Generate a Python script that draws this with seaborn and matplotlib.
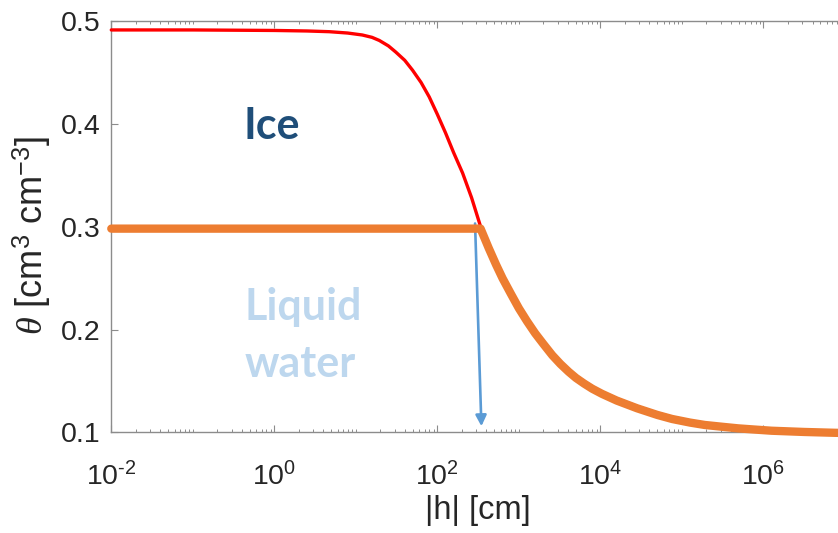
import numpy as np
import pandas as pd
import matplotlib
matplotlib.use('Agg')
import matplotlib.pyplot as plt
import matplotlib.ticker as mticker
import seaborn as sns

# |h| in cm and water content
h_ice = [0.01, 0.1, 1, 2.51, 4.73, 7.94, 12.0, 15.8, 19.4, 25.1, 30.9, 39.8,
         49.5, 63.1, 79.4, 100, 126, 158, 204, 263, 324, 339,
         427, 525, 631, 794, 1000, 1259, 1585, 1995, 2570, 3236, 4074, 5012,
         6310, 7943, 10470, 15850, 28180, 50120, 75860, 125900, 190500,
         316200, 489800, 794300, 1259000, 3162000, 7413000, 10000000]
theta_ice = [0.491, 0.491, 0.4905, 0.4900, 0.4893, 0.4880, 0.4861, 0.4838,
             0.4808, 0.4755, 0.4695, 0.4615, 0.452, 0.440, 0.426, 0.409,
             0.391, 0.372, 0.352, 0.328, 0.305, 0.300,
             0.281, 0.265, 0.2517, 0.237, 0.2226, 0.210, 0.1983, 0.188,
             0.177, 0.1685, 0.161, 0.155, 0.1495, 0.1445, 0.1393, 0.1328,
             0.1253, 0.1188, 0.1148, 0.1112, 0.1089, 0.107, 0.1055, 0.1043,
             0.1033, 0.1021, 0.1013, 0.1011]

h_liq = [0.01, 339, 427, 525, 631, 794, 1000, 1259, 1585, 1995, 2570, 3236,
         4074, 5012, 6310, 7943, 10470, 15850, 28180, 50120, 75860, 125900,
         190500, 316200, 489800, 794300, 1259000, 3162000, 7413000, 10000000]
theta_liq = [0.298, 0.298, 0.279, 0.263, 0.2497, 0.235, 0.2206, 0.208,
             0.1963, 0.186, 0.175, 0.1665, 0.159, 0.153, 0.1475, 0.1425,
             0.1375, 0.131, 0.1235, 0.117, 0.1131, 0.1096, 0.1073, 0.1055,
             0.104, 0.1028, 0.1017, 0.1005, 0.0997, 0.0995]

arrow_from = (290, 0.303)
arrow_to = (347, 0.106)

xticks_major = [1e-2, 1e0, 1e2, 1e4, 1e6]
xtick_labels = [r'$\mathdefault{10^{‐2}}$', r'$\mathdefault{10^{0}}$',
                r'$\mathdefault{10^{2}}$', r'$\mathdefault{10^{4}}$',
                r'$\mathdefault{10^{6}}$']
yticks = [0.1, 0.2, 0.3, 0.4, 0.5]

sns.set_theme(style='white')
plt.rcParams['font.family'] = ['Liberation Sans', 'DejaVu Sans']
plt.rcParams['mathtext.fontset'] = 'custom'
plt.rcParams['mathtext.rm'] = 'Liberation Sans'
plt.rcParams['mathtext.it'] = 'Liberation Serif:italic'
plt.rcParams['mathtext.bf'] = 'Liberation Sans:bold'

fig = plt.figure(figsize=(8.38, 5.33), dpi=100)
ax = fig.add_axes([0.1328, 0.1886, 0.8755, 0.7726])

ice_df = pd.DataFrame({'h': h_ice, 'theta': theta_ice})
liq_df = pd.DataFrame({'h': h_liq, 'theta': theta_liq})

sns.lineplot(data=ice_df, x='h', y='theta', ax=ax, color='#ff0000', lw=2.4,
             estimator=None, sort=False, zorder=3, clip_on=False,
             solid_joinstyle='round')
ax.annotate('', xy=arrow_to, xytext=arrow_from,
            arrowprops=dict(arrowstyle='-|>', color='#5b9bd5', lw=1.9,
                            mutation_scale=16, shrinkA=0, shrinkB=0),
            zorder=2)
sns.lineplot(data=liq_df, x='h', y='theta', ax=ax, color='#ed7d31', lw=6,
             estimator=None, sort=False, zorder=4, clip_on=False,
             solid_joinstyle='round')

ax.set_xscale('log')
ax.set_xlim(1e-2, 1e7)
ax.set_ylim(0.1, 0.5)
ax.xaxis.set_major_locator(mticker.FixedLocator(xticks_major))
ax.xaxis.set_major_formatter(mticker.FixedFormatter(xtick_labels))
ax.xaxis.set_minor_locator(mticker.LogLocator(base=10, subs=np.arange(1, 10), numticks=100))
ax.xaxis.set_minor_formatter(mticker.NullFormatter())
ax.set_yticks(yticks)
ax.set_yticklabels([f'{v:.1f}' for v in yticks])

grey = '#8c8c8c'
for side in ['left', 'bottom', 'top']:
    ax.spines[side].set_color(grey)
    ax.spines[side].set_linewidth(1.0)
ax.spines['right'].set_visible(False)

ax.tick_params(axis='x', which='major', direction='in', length=5, width=0.8,
               color=grey, top=True, bottom=True, labelsize=20.5, pad=21,
               labelcolor='#262626')
ax.tick_params(axis='x', which='minor', direction='in', length=2.5, width=0.7,
               color=grey, top=True, bottom=True)
ax.tick_params(axis='y', which='major', direction='in', length=5, width=0.8,
               color=grey, left=True, right=False, labelsize=20.5, pad=8,
               labelcolor='#262626')

ax.set_xlabel('|h| [cm]', fontsize=23.5, color='#262626', labelpad=3)
ax.set_ylabel(r'$\theta$ [cm$^{\mathrm{3}}$ cm$^{\mathrm{-3}}$]', fontsize=26,
              color='#262626')
ax.yaxis.set_label_coords(-0.0795, 0.477)

ax.text(0.413, 0.385, 'Ice', fontsize=31, fontweight='bold', color='#1f4e79',
        family=['Lato', 'DejaVu Sans'], ha='left', va='baseline')
ax.text(0.43, 0.209, 'Liquid', fontsize=31, fontweight='bold', color='#bdd7ee',
        family=['Lato', 'DejaVu Sans'], ha='left', va='baseline')
ax.text(0.43, 0.154, 'water', fontsize=31, fontweight='bold', color='#bdd7ee',
        family=['Lato', 'DejaVu Sans'], ha='left', va='baseline')

fig.savefig('out.png', dpi=100)
